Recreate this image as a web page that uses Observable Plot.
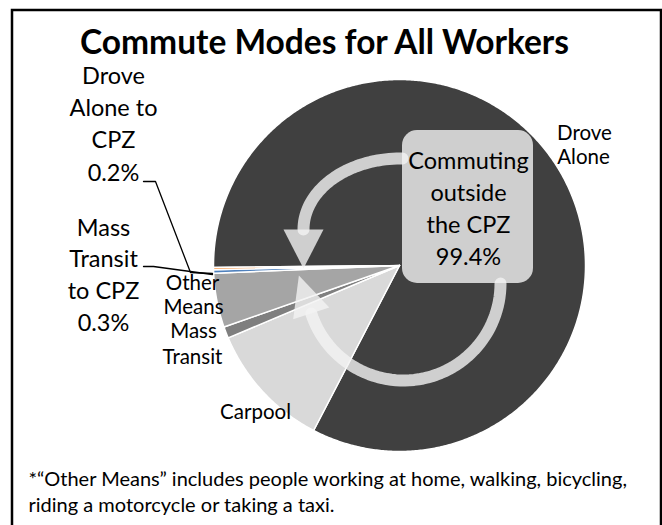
<!DOCTYPE html>
<html>
<head>
<meta charset="utf-8">
<script src="https://cdn.jsdelivr.net/npm/d3@7"></script>
<script src="https://cdn.jsdelivr.net/npm/@observablehq/plot@0.6"></script>
<style>
  html, body { margin: 0; padding: 0; background: #fff; }
  #chart { width: 662px; height: 525px; overflow: hidden; }
</style>
</head>
<body>
<div id="chart"></div>
<script>
// ---- data ----
const categories = ["Drove Alone", "Carpool", "Mass Transit", "Other Means", "Mass Transit to CPZ", "Drove Alone to CPZ"];
const shares = [82.8, 11.0, 1.0, 4.7, 0.3, 0.2];
const sliceColors = ["#404040", "#d9d9d9", "#7f7f7f", "#a5a5a5", "#4f81bd", "#f79646"];
const titleText = "Commute Modes for All Workers";
const boxLines = ["Commuting", "outside", "the CPZ", "99.4%"];
const footnoteLines = [
  "*\u201COther Means\u201D includes people working at home, walking, bicycling,",
  "riding a motorcycle or taking a taxi."
];

// ---- layout ----
const W = 662, H = 525;
const cx = 399, cy = 265, R = 186, startAngle = -90.58;
const FONT = "Lato, 'Open Sans', sans-serif";

// slices
const total = d3.sum(shares);
const slicePts = [];
let acc = startAngle;
categories.forEach((c, i) => {
  const a0 = acc, a1 = acc + shares[i] / total * 360;
  acc = a1;
  const n = Math.max(2, Math.ceil((a1 - a0) / 0.5));
  slicePts.push({name: c, color: sliceColors[i], x: cx, y: cy});
  for (let k = 0; k <= n; k++) {
    const t = (a0 + (a1 - a0) * k / n) * Math.PI / 180;
    slicePts.push({name: c, color: sliceColors[i], x: cx + R * Math.sin(t), y: cy - R * Math.cos(t)});
  }
  slicePts.push({name: c, color: sliceColors[i], x: cx, y: cy});
});

// circular arrow (annotation)
const arrowFill = "#f2f2f2", arrowOpacity = 0.8, band = 12;
const topArc = [{x: 402, y: 158}];
for (let k = 0; k <= 40; k++) {
  const p = (-90 - 90 * k / 40) * Math.PI / 180;
  topArc.push({x: 400 + 97 * Math.cos(p), y: 229 + 71 * Math.sin(p)});
}
const topEnd = topArc[topArc.length - 1];
const topHead = [
  {x: topEnd.x - 20, y: topEnd.y}, {x: topEnd.x + 20, y: topEnd.y}, {x: topEnd.x, y: topEnd.y + 39}
];
const lc = {x: 403, y: 283, r: 97, end: 162};
const lowArc = [];
for (let k = 0; k <= 60; k++) {
  const p = (lc.end * k / 60) * Math.PI / 180;
  lowArc.push({x: lc.x + lc.r * Math.cos(p), y: lc.y + lc.r * Math.sin(p)});
}
const pe = lc.end * Math.PI / 180;
const le = lowArc[lowArc.length - 1];
const tg = [-Math.sin(pe), Math.cos(pe)], nm = [Math.cos(pe), Math.sin(pe)];
const lowHead = [
  {x: le.x + 19 * nm[0], y: le.y + 19 * nm[1]},
  {x: le.x - 19 * nm[0], y: le.y - 19 * nm[1]},
  {x: le.x + 40 * tg[0], y: le.y + 40 * tg[1]}
];

// leader lines
const leaders = [
  {id: "da", x: 143, y: 181}, {id: "da", x: 155, y: 181}, {id: "da", x: 190, y: 272}, {id: "da", x: 212, y: 273},
  {id: "mt", x: 143, y: 266}, {id: "mt", x: 153, y: 266}, {id: "mt", x: 212, y: 274}
];

// labels
const bigLabels = [
  {t: "Drove", x: 113, y: 83}, {t: "Alone to", x: 113, y: 115}, {t: "CPZ", x: 113, y: 147}, {t: "0.2%", x: 113, y: 180},
  {t: "Mass", x: 103, y: 235}, {t: "Transit", x: 103, y: 266}, {t: "to CPZ", x: 103, y: 298}, {t: "0.3%", x: 103, y: 330}
];
const smallLabels = [
  {t: "Drove", x: 584, y: 139}, {t: "Alone", x: 583, y: 163},
  {t: "Other", x: 192, y: 289}, {t: "Means", x: 193, y: 313},
  {t: "Mass", x: 193, y: 337}, {t: "Transit", x: 192, y: 363},
  {t: "Carpool", x: 255, y: 418}
];
const boxText = boxLines.map((t, i) => ({t, x: 468, y: 168 + 32.3 * i}));

const chart = Plot.plot({
  width: W, height: H, margin: 0,
  x: {domain: [0, W], range: [0, W], axis: null},
  y: {domain: [0, H], range: [0, H], axis: null},
  color: {type: "identity"},
  marks: [
    Plot.rect([0], {x1: 12, x2: 661, y1: 10, y2: 540, fill: "none", stroke: "black", strokeWidth: 2.5}),
    Plot.line(slicePts, {x: "x", y: "y", z: "name", fill: "color", stroke: "white", strokeWidth: 1.5, strokeLinejoin: "round"}),
    Plot.line(topArc, {x: "x", y: "y", stroke: arrowFill, strokeOpacity: arrowOpacity, strokeWidth: band}),
    Plot.line(topHead, {x: "x", y: "y", fill: arrowFill, fillOpacity: arrowOpacity, stroke: "none"}),
    Plot.line(lowArc, {x: "x", y: "y", stroke: arrowFill, strokeOpacity: arrowOpacity, strokeWidth: band}),
    Plot.line(lowHead, {x: "x", y: "y", fill: arrowFill, fillOpacity: arrowOpacity, stroke: "none"}),
    Plot.rect([0], {x1: 402, x2: 533, y1: 130, y2: 283, rx: 15, fill: arrowFill, fillOpacity: arrowOpacity}),
    Plot.line(leaders, {x: "x", y: "y", z: "id", stroke: "black", strokeWidth: 1.3}),
    Plot.text(bigLabels, {x: "x", y: "y", text: "t", fontSize: 23.5, fontFamily: FONT, lineAnchor: "bottom", fill: "black"}),
    Plot.text(smallLabels, {x: "x", y: "y", text: "t", fontSize: 20.5, fontFamily: FONT, lineAnchor: "bottom", fill: "black"}),
    Plot.text(boxText, {x: "x", y: "y", text: "t", fontSize: 23.5, fontFamily: FONT, lineAnchor: "bottom", fill: "black"}),
    Plot.text([titleText], {x: 324, y: 53, text: d => d, fontSize: 33.5, fontWeight: "bold", fontFamily: FONT, lineAnchor: "bottom", fill: "black"}),
    Plot.text(footnoteLines, {x: 28, y: (d, i) => 485 + 26 * i, text: d => d, fontSize: 20, fontFamily: FONT, textAnchor: "start", lineAnchor: "bottom", fill: "black"})
  ]
});
document.getElementById("chart").appendChild(chart);
</script>
</body>
</html>
